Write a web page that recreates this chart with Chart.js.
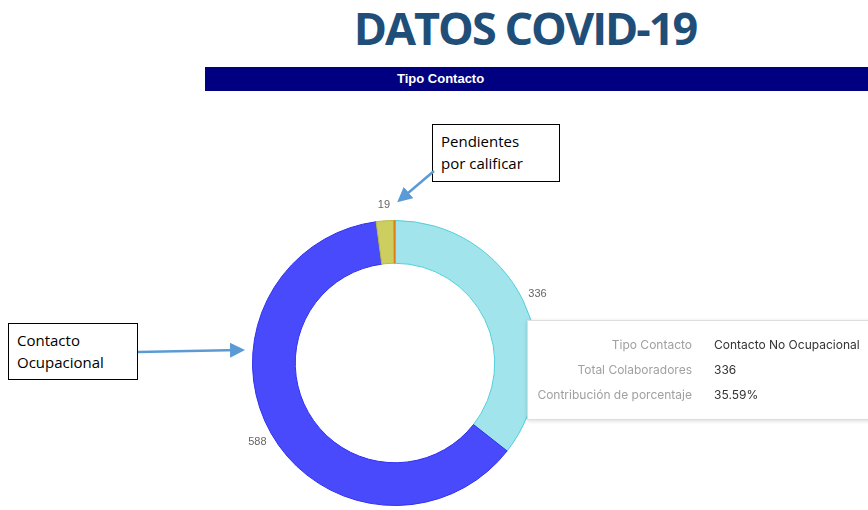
<!DOCTYPE html>
<html>
<head>
<meta charset="utf-8">
<script src="https://cdn.jsdelivr.net/npm/chart.js@4"></script>
<style>
  body { margin: 0; width: 868px; height: 510px; overflow: hidden; background: #fff; position: relative; font-family: "Open Sans", sans-serif; }
  #title { position: absolute; left: 0; width: 1050px; top: -3px; text-align: center; font: 700 45px "Open Sans", sans-serif; color: #1f4e79; letter-spacing: -2px; }
  #bar { position: absolute; left: 205px; top: 67px; width: 663px; height: 24px; background: #000080; }
  #bar span { position: absolute; left: 192px; top: 4px; color: #fff; font: 700 13px "Liberation Sans Narrow", "Liberation Sans", sans-serif; }
  #wrap { position: absolute; left: 215px; top: 183px; width: 360px; height: 360px; }
  .note { position: absolute; border: 1.5px solid #000; background: #fff; font: 15px "Open Sans", sans-serif; line-height: 22px; color: #000; padding: 5px 8px; box-sizing: border-box; }
  #tip { position: absolute; left: 527px; top: 320px; width: 360px; height: 98px; background: #fff; border: 1px solid #ddd; box-shadow: 0 1px 4px rgba(0,0,0,0.15); font: 12px "Inter", "Noto Sans", sans-serif; }
  #tip table { position: absolute; left: 0; top: 11px; border-collapse: collapse; }
  #tip td { padding: 0; height: 25px; white-space: nowrap; }
  #tip td.k { color: #a0a0a0; text-align: right; width: 164px; padding-right: 22px; }
  #tip td.v { color: #333; }
  svg { position: absolute; left: 0; top: 0; }
</style>
</head>
<body>
<div id="title">DATOS COVID-19</div>
<div id="bar"><span>Tipo Contacto</span></div>
<div id="wrap"><canvas id="donut"></canvas></div>
<div class="note" style="left:432px;top:124px;width:128px;height:58px;">Pendientes<br>por calificar</div>
<div class="note" style="left:8px;top:323px;width:130px;height:57px;">Contacto<br>Ocupacional</div>
<svg width="868" height="510">
  <defs>
    <marker id="head" markerWidth="6" markerHeight="6" refX="4" refY="3" orient="auto">
      <path d="M0,0 L6,3 L0,6 z" fill="#5b9bd5"/>
    </marker>
  </defs>
  <line x1="434" y1="171" x2="401" y2="199" stroke="#5b9bd5" stroke-width="2.5" marker-end="url(#head)"/>
  <line x1="138" y1="352" x2="240" y2="350" stroke="#5b9bd5" stroke-width="2.5" marker-end="url(#head)"/>
</svg>
<div id="tip"></div>
<script>
const categories = ["Contacto No Ocupacional", "Contacto Ocupacional", "Pendientes por calificar", "Sin clasificar"];
const colaboradores = [336, 588, 19, 1];
const fillColors = ["#a2e4eb", "#4a4afd", "#cccf60", "#e8902a"];
const edgeColors = ["#4fcfdc", "#3030f0", "#b8b84a", "#e07a10"];
const tipFields = ["Tipo Contacto", "Total Colaboradores", "Contribución de porcentaje"];

const outsideLabels = {
  id: "outsideLabels",
  afterDatasetsDraw(chart) {
    const ctx = chart.ctx;
    const meta = chart.getDatasetMeta(0);
    ctx.save();
    ctx.font = '11px "Liberation Sans", Arial, sans-serif';
    ctx.fillStyle = "#666";
    ctx.textAlign = "center";
    ctx.textBaseline = "middle";
    meta.data.forEach((arc, i) => {
      const v = colaboradores[i];
      if (v < 5) return; // tiny slice gets no label
      const p = arc.getProps(["x", "y", "startAngle", "endAngle", "outerRadius"], true);
      const a = (p.startAngle + p.endAngle) / 2;
      const r = p.outerRadius + 16;
      ctx.fillText(String(v), p.x + Math.cos(a) * r, p.y + Math.sin(a) * r);
    });
    ctx.restore();
  }
};

new Chart(document.getElementById("donut"), {
  type: "doughnut",
  data: {
    labels: categories,
    datasets: [{
      data: colaboradores,
      backgroundColor: fillColors,
      borderColor: edgeColors,
      borderWidth: 1,
      hoverOffset: 0
    }]
  },
  options: {
    responsive: true,
    maintainAspectRatio: false,
    animation: false,
    cutout: "70%",
    layout: { padding: 37 },
    events: [],
    plugins: {
      legend: { display: false },
      tooltip: { enabled: false }
    }
  },
  plugins: [outsideLabels]
});

// static tooltip for the first slice
const total = colaboradores.reduce((s, v) => s + v, 0);
const pct = (colaboradores[0] / total * 100).toFixed(2) + "%";
const vals = [categories[0], String(colaboradores[0]), pct];
document.getElementById("tip").innerHTML = "<table>" +
  tipFields.map((k, i) => `<tr><td class="k">${k}</td><td class="v">${vals[i]}</td></tr>`).join("") +
  "</table>";
</script>
</body>
</html>
